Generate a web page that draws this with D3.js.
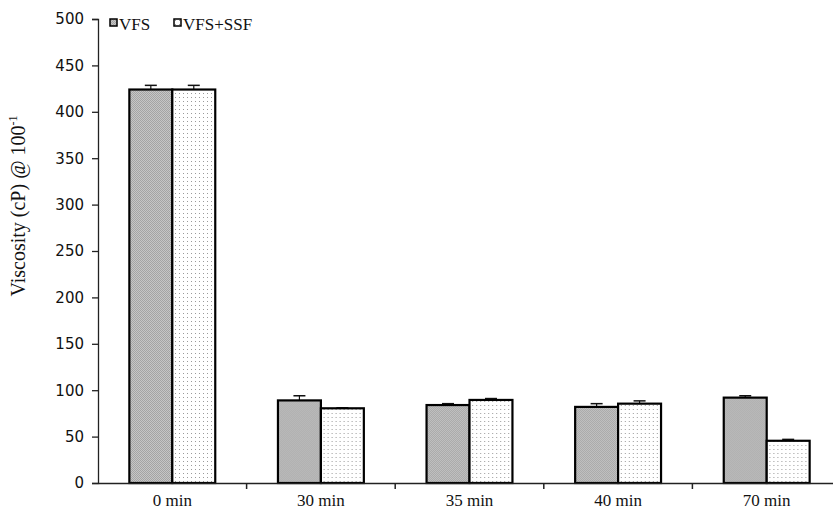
<!DOCTYPE html>
<html><head><meta charset="utf-8">
<script src="https://cdn.jsdelivr.net/npm/d3@7"></script>
<style>body{margin:0;background:#fff}svg{display:block}</style>
</head><body>
<script>
const categories = ["0 min","30 min","35 min","40 min","70 min"];
const seriesNames = ["VFS","VFS+SSF"];
const vfs = [424, 89, 84, 82, 92];
const vfsErr = [4.5, 5, 1.5, 3.5, 2];
const ssf = [424, 80.5, 89.5, 85.5, 45.5];
const ssfErr = [4.5, 0.5, 1.5, 3, 1.5];
const yTicks = [0,50,100,150,200,250,300,350,400,450,500];

const W=833,H=513;
const svg=d3.select("body").append("svg").attr("width",W).attr("height",H);
const defs=svg.append("defs");
const p1=defs.append("pattern").attr("id","pv").attr("patternUnits","userSpaceOnUse").attr("width",2).attr("height",2);
p1.append("rect").attr("width",2).attr("height",2).attr("fill","#c6c6c6");
p1.append("rect").attr("width",1).attr("height",1).attr("fill","#a4a4a4");
p1.append("rect").attr("x",1).attr("y",1).attr("width",1).attr("height",1).attr("fill","#a4a4a4");
const p2=defs.append("pattern").attr("id","ps").attr("patternUnits","userSpaceOnUse").attr("width",4).attr("height",4);
p2.append("rect").attr("width",4).attr("height",4).attr("fill","#fff");
p2.append("rect").attr("x",1).attr("y",1).attr("width",1).attr("height",1).attr("fill","#9a9a9a");
const fills=["url(#pv)","url(#ps)"];

const leftX=98, topY=19, bottomY=483, bandW=148.6;
const x=d3.scaleBand().domain(categories).range([leftX,leftX+bandW*categories.length]).paddingInner(0).paddingOuter(0);
const y=d3.scaleLinear().domain([0,500]).range([bottomY,topY]);
const xs=d3.scaleBand().domain(seriesNames).range([0,x.bandwidth()]).paddingInner(0).paddingOuter(0.73);

// y axis
const ya=svg.append("g").attr("transform",`translate(${leftX},0)`)
  .call(d3.axisLeft(y).tickValues(yTicks).tickSize(6).tickPadding(8));
ya.select(".domain").attr("stroke","#222").attr("stroke-width",1.3);
ya.selectAll(".tick line").attr("stroke","#222").attr("stroke-width",1.3);
ya.selectAll(".tick text").attr("font-family","'DejaVu Sans', Verdana, sans-serif").attr("font-size",15).attr("fill","#111");

// bars
const data=categories.map((c,i)=>({c,vals:[{s:seriesNames[0],v:vfs[i],e:vfsErr[i],k:0},{s:seriesNames[1],v:ssf[i],e:ssfErr[i],k:1}]}));
const g=svg.append("g");
const grp=g.selectAll("g").data(data).join("g").attr("transform",d=>`translate(${x(d.c)},0)`);
grp.selectAll("line.err").data(d=>d.vals).join("line").attr("class","err")
  .attr("x1",d=>xs(d.s)+xs.bandwidth()/2).attr("x2",d=>xs(d.s)+xs.bandwidth()/2)
  .attr("y1",d=>y(d.v)).attr("y2",d=>y(d.v+d.e)).attr("stroke","#111").attr("stroke-width",1.2);
grp.selectAll("line.cap").data(d=>d.vals).join("line").attr("class","cap")
  .attr("x1",d=>xs(d.s)+xs.bandwidth()/2-6).attr("x2",d=>xs(d.s)+xs.bandwidth()/2+6)
  .attr("y1",d=>y(d.v+d.e)).attr("y2",d=>y(d.v+d.e)).attr("stroke","#111").attr("stroke-width",1.5);
grp.selectAll("rect").data(d=>d.vals).join("rect")
  .attr("x",d=>xs(d.s)).attr("width",xs.bandwidth())
  .attr("y",d=>y(d.v)).attr("height",d=>bottomY-y(d.v))
  .attr("fill",d=>fills[d.k]).attr("stroke","#000").attr("stroke-width",2.2);

// x axis
const xa=svg.append("g").attr("transform",`translate(0,${bottomY})`)
  .call(d3.axisBottom(x).tickSize(0).tickPadding(11));
xa.select(".domain").attr("stroke","#222").attr("stroke-width",1.5);
xa.selectAll(".tick text").attr("font-family","'Liberation Serif','Times New Roman',serif").attr("font-size",17).attr("fill","#111");
xa.selectAll("line.sep").data(categories.slice(1)).join("line").attr("class","sep")
  .attr("x1",d=>x(d)).attr("x2",d=>x(d)).attr("y1",0).attr("y2",6).attr("stroke","#222").attr("stroke-width",1.5);

// y title
svg.append("text").attr("transform","translate(25,206) rotate(-90)").attr("text-anchor","middle")
  .attr("font-family","'Liberation Serif','Times New Roman',serif").attr("font-size",20).attr("fill","#111")
  .html('Viscosity (cP) @ 100<tspan dy="-8" font-size="12">-1</tspan>');

// legend
const lg=svg.append("g").attr("transform","translate(110,19)");
const lx=[0,64];
seriesNames.forEach((s,i)=>{
  lg.append("rect").attr("x",lx[i]).attr("y",0).attr("width",7).attr("height",7).attr("fill",fills[i]).attr("stroke","#000").attr("stroke-width",1.5);
  lg.append("text").attr("x",lx[i]+9).attr("y",10.5).attr("font-family","'Liberation Serif','Times New Roman',serif").attr("font-size",17).attr("fill","#111").text(s);
});
</script>
</body></html>
